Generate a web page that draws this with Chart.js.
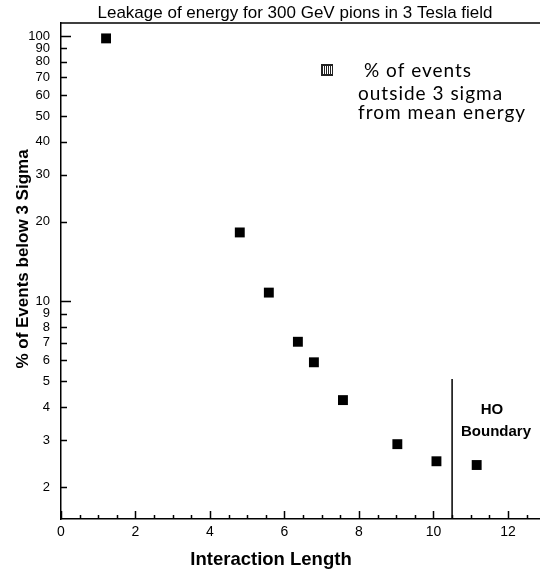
<!DOCTYPE html>
<html>
<head>
<meta charset="utf-8">
<script src="https://cdn.jsdelivr.net/npm/chart.js@4/dist/chart.umd.min.js"></script>
<style>
  body { margin: 0; background: #fff; }
  #wrap { width: 540px; height: 572px; }
</style>
</head>
<body>
<div id="wrap"><canvas id="leakage"></canvas></div>
<script>
const interactionLength = [1.21, 4.8, 5.58, 6.36, 6.79, 7.57, 9.03, 10.08, 11.16];
const pctBelow = [98, 18.2, 10.8, 7.05, 5.9, 4.25, 2.9, 2.5, 2.42];
const yTicks = [2, 3, 4, 5, 6, 7, 8, 9, 10, 20, 30, 40, 50, 60, 70, 80, 90, 100];
const xTicks = [0, 2, 4, 6, 8, 10, 12];
const xMinorTicks = [0.5, 1, 1.5, 2.5, 3, 3.5, 4.5, 5, 5.5, 6.5, 7, 7.5, 8.5, 9, 9.5, 10.5, 11, 11.5, 12.5];
const hoBoundary = [{ x: 10.5, y: 5.1 }, { x: 10.5, y: 1.515 }];
const legendLines = ['% of events', 'outside 3 sigma', 'from mean energy'];

const xRange = { min: 0, max: 12.86 };
const yRange = { min: 1.515, max: 112 };

const points = interactionLength.map((x, i) => ({ x: x, y: pctBelow[i] }));

// ticks that point into the plot, frame top line, titles and annotation
const decorations = {
    id: 'decorations',
    afterDraw(chart) {
        const ctx = chart.ctx;
        const area = chart.chartArea;
        const xs = chart.scales.x;
        const ys = chart.scales.y;
        ctx.save();
        ctx.strokeStyle = '#000';
        ctx.lineWidth = 1.5;
        ctx.beginPath();
        ctx.moveTo(area.left, area.top);
        ctx.lineTo(area.right, area.top);
        yTicks.forEach(v => {
            const py = Math.round(ys.getPixelForValue(v)) + 0.5;
            const len = (v === 10 || v === 100) ? 10 : 6;
            ctx.moveTo(area.left, py);
            ctx.lineTo(area.left + len, py);
        });
        xTicks.forEach(v => {
            const px = Math.round(xs.getPixelForValue(v)) + 0.5;
            ctx.moveTo(px, area.bottom);
            ctx.lineTo(px, area.bottom - 8);
        });
        xMinorTicks.forEach(v => {
            const px = Math.round(xs.getPixelForValue(v)) + 0.5;
            ctx.moveTo(px, area.bottom);
            ctx.lineTo(px, area.bottom - 4);
        });
        ctx.stroke();

        ctx.fillStyle = '#000';
        ctx.textAlign = 'center';
        ctx.textBaseline = 'middle';
        ctx.font = '17px "Liberation Sans", Arial, sans-serif';
        ctx.fillText('Leakage of energy for 300 GeV pions in 3 Tesla field', 295, 13);

        ctx.font = 'bold 18.5px "Liberation Sans", Arial, sans-serif';
        ctx.fillText('Interaction Length', 271, 560);

        ctx.save();
        ctx.translate(23, 259);
        ctx.rotate(-Math.PI / 2);
        ctx.font = 'bold 17px "Liberation Sans", Arial, sans-serif';
        ctx.fillText('% of Events below 3 Sigma', 0, 0);
        ctx.restore();

        ctx.font = 'bold 15px "Liberation Sans", Arial, sans-serif';
        ctx.fillText('HO', 492, 410);
        ctx.fillText('Boundary', 496, 432);

        // legend key: square with vertical stripes
        ctx.fillStyle = '#222';
        ctx.fillRect(321, 64, 12, 12);
        ctx.strokeStyle = '#fff';
        ctx.lineWidth = 1;
        ctx.beginPath();
        for (let sx = 323.5; sx < 332; sx += 2) {
            ctx.moveTo(sx, 66);
            ctx.lineTo(sx, 74);
        }
        ctx.stroke();

        ctx.fillStyle = '#000';
        ctx.textAlign = 'left';
        ctx.letterSpacing = '1px';
        ctx.font = '19px Lato, "Noto Sans", sans-serif';
        ctx.fillText(legendLines[0], 364, 71);
        ctx.fillText(legendLines[1], 358, 94);
        ctx.fillText(legendLines[2], 358, 113);
        ctx.restore();
    }
};

const config = {
    type: 'scatter',
    data: {
        datasets: [{
            data: points,
            pointStyle: 'rect',
            pointRadius: 7,
            pointHoverRadius: 7,
            backgroundColor: '#000',
            borderColor: '#000',
            borderWidth: 0
        }, {
            type: 'line',
            data: hoBoundary,
            showLine: true,
            borderColor: '#000',
            borderWidth: 1.5,
            pointRadius: 0,
            fill: false
        }]
    },
    options: {
        responsive: true,
        maintainAspectRatio: false,
        animation: false,
        layout: { autoPadding: false, padding: { top: 23, right: 0, left: 0, bottom: 0 } },
        plugins: {
            legend: { display: false },
            title: { display: false },
            tooltip: { enabled: false }
        },
        scales: {
            x: {
                type: 'linear',
                min: xRange.min,
                max: xRange.max,
                afterFit: (scale) => {
                    scale.height = 53;
                    scale.paddingLeft = 0;
                    scale.paddingRight = 0;
                },
                afterBuildTicks: (scale) => { scale.ticks = xTicks.map(v => ({ value: v })); },
                grid: { display: false, drawTicks: false },
                border: { display: true, color: '#000', width: 1.5 },
                ticks: {
                    padding: 5,
                    color: '#000',
                    maxRotation: 0,
                    autoSkip: false,
                    font: { family: '"Liberation Sans", Arial, sans-serif', size: 14 }
                }
            },
            y: {
                type: 'logarithmic',
                min: yRange.min,
                max: yRange.max,
                afterFit: (scale) => {
                    scale.width = 61;
                    scale.paddingTop = 0;
                    scale.paddingBottom = 0;
                },
                afterBuildTicks: (scale) => { scale.ticks = yTicks.map(v => ({ value: v })); },
                grid: { display: false, drawTicks: false },
                border: { display: true, color: '#000', width: 1.5 },
                ticks: {
                    padding: 11,
                    color: '#000',
                    autoSkip: false,
                    callback: (value) => String(value),
                    font: { family: '"Liberation Sans", Arial, sans-serif', size: 13 }
                }
            }
        }
    },
    plugins: [decorations]
};

new Chart(document.getElementById('leakage').getContext('2d'), config);
</script>
</body>
</html>
